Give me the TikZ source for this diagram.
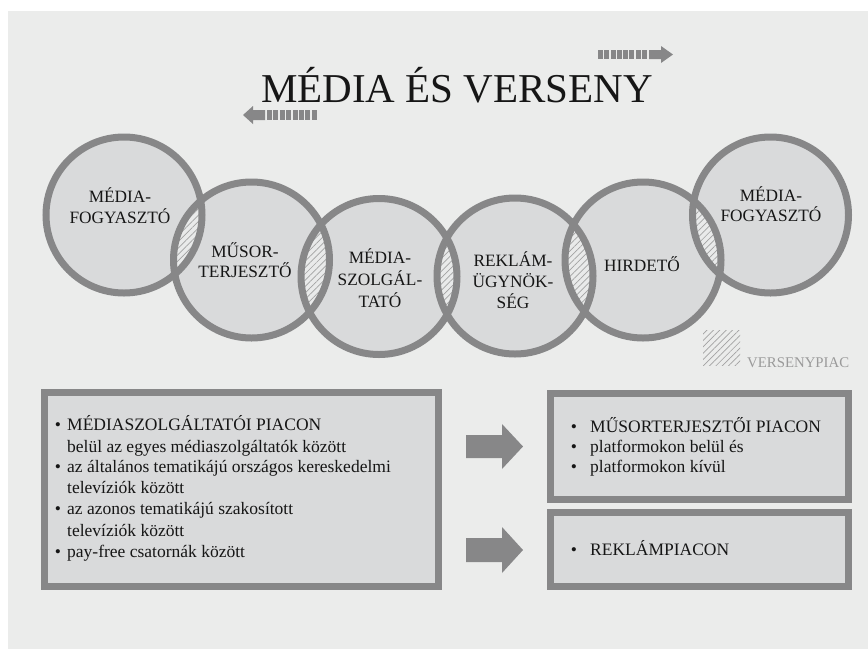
\documentclass[tikz,border=0pt]{standalone}
\usepackage{fontspec}
\setmainfont{Liberation Serif}
\usetikzlibrary{patterns.meta}
\definecolor{bgc}{HTML}{EBECEB}
\definecolor{cfill}{HTML}{D9DADB}
\definecolor{ringc}{HTML}{878788}
\definecolor{lensc}{HTML}{E9EAEA}
\definecolor{hatchc}{HTML}{A2A2A2}
\definecolor{txtc}{HTML}{161616}
\definecolor{legc}{HTML}{9A9A9A}
\tikzset{
  circ/.style={circle, fill=cfill, minimum size=156pt, inner sep=0pt, outer sep=0pt},
  ringline/.style={draw=ringc, line width=7pt},
  hatchfill/.style={pattern={Lines[angle=45,distance=4.5pt,line width=0.7pt]}, pattern color=hatchc},
  ctext/.style={anchor=base, inner sep=0pt, text=txtc, font=\fontsize{17.3}{21}\selectfont},
  btext/.style={anchor=base west, inner sep=0pt, text=txtc, font=\fontsize{17.5}{21}\selectfont},
  bul/.style={anchor=base, inner sep=0pt, text=txtc, font=\fontsize{17.5}{21}\selectfont},
  boxst/.style={rectangle, draw=ringc, fill=cfill, line width=7pt, inner sep=0pt, outer sep=0pt},
  arrc/.style={fill=ringc},
}
\begin{document}
\begin{tikzpicture}[x=1pt,y=-1pt]
\useasboundingbox (0,0) rectangle (868,649);
\fill[white] (0,0) rectangle (868,649);
\fill[bgc] (8,11) rectangle (868,649);

% title
\node[anchor=base, inner sep=0pt, text=txtc, font=\fontsize{41}{48}\selectfont] (title) at (457,102) {MÉDIA ÉS VERSENY};

% small dashed arrows
\foreach \i in {0,...,7} \fill[arrc] ({598+\i*6.25},50) rectangle ++(5,9);
\fill[arrc] (649,50) -- (661,50) -- (661,46) -- (673,54.5) -- (661,63) -- (661,59) -- (649,59) -- cycle;
\fill[arrc] (243,115) -- (253,106) -- (253,110) -- (265,110) -- (265,120) -- (253,120) -- (253,124) -- cycle;
\foreach \i in {0,...,7} \fill[arrc] ({267+\i*6.4},110) rectangle ++(5,10);

% circles
\node[circ] (c1) at (124,215) {};
\node[circ] (c2) at (251.5,260) {};
\node[circ] (c3) at (379,276.5) {};
\node[circ] (c4) at (515,276) {};
\node[circ] (c5) at (643,260) {};
\node[circ] (c6) at (770.5,215) {};

\foreach \a/\b in {c1/c2,c2/c3,c3/c4,c4/c5,c5/c6}{
  \begin{scope}
    \clip (\a.center) circle[radius=78pt];
    \fill[lensc] (\b.center) circle[radius=78pt];
    \fill[hatchfill] (\b.center) circle[radius=78pt];
  \end{scope}
}
\foreach \c in {c1,c2,c3,c4,c5,c6} \draw[ringline] (\c.center) circle[radius=78pt];

% circle labels
\node[ctext] (c1a) at (120,202) {MÉDIA-};
\node[ctext] (c1b) at (120,223) {FOGYASZTÓ};
\node[ctext] (c2a) at (245,257) {MŰSOR-};
\node[ctext] (c2b) at (245,277) {TERJESZTŐ};
\node[ctext] (c3a) at (380,263) {MÉDIA-};
\node[ctext] (c3b) at (380,285) {SZOLGÁL-};
\node[ctext] (c3c) at (380,307) {TATÓ};
\node[ctext] (c4a) at (513,266) {REKLÁM-};
\node[ctext] (c4b) at (513,287) {ÜGYNÖK-};
\node[ctext] (c4c) at (513,308) {SÉG};
\node[ctext] (c5a) at (642,271) {HIRDETŐ};
\node[ctext] (c6a) at (771,201) {MÉDIA-};
\node[ctext] (c6b) at (771,221) {FOGYASZTÓ};

% legend
\fill[hatchfill] (703,330) rectangle (740,365);
\node[anchor=base west, inner sep=0pt, text=legc, font=\fontsize{14.8}{18}\selectfont] (leg) at (747,367) {VERSENYPIAC};

% boxes
\node[boxst, minimum width=394pt, minimum height=194pt] (b1) at (241.5,489.5) {};
\node[boxst, minimum width=298pt, minimum height=106pt] (b2) at (699.5,446.5) {};
\node[boxst, minimum width=298pt, minimum height=74pt] (b3) at (699.5,549.5) {};

% big arrows
\fill[arrc] (466,435) -- (502,435) -- (502,424) -- (523,446.5) -- (502,469) -- (502,458) -- (466,458) -- cycle;
\fill[arrc] (466,538) -- (502,538) -- (502,527) -- (523,550) -- (502,573) -- (502,562) -- (466,562) -- cycle;

% left box text
\node[bul] (l1b) at (58,430) {•};
\node[btext] (l1) at (67,430) {MÉDIASZOLGÁLTATÓI PIACON};
\node[btext] (l2) at (67,452) {belül az egyes médiaszolgáltatók között};
\node[bul] (l3b) at (58,472) {•};
\node[btext] (l3) at (67,472) {az általános tematikájú országos kereskedelmi};
\node[btext] (l4) at (67,493) {televíziók között};
\node[bul] (l5b) at (58,514) {•};
\node[btext] (l5) at (67,514) {az azonos tematikájú szakosított};
\node[btext] (l6) at (67,536) {televíziók között};
\node[bul] (l7b) at (58,557) {•};
\node[btext] (l7) at (67,557) {pay-free csatornák között};

% right box text
\node[bul] (r1b) at (574,432) {•};
\node[btext] (r1) at (590,432) {MŰSORTERJESZTŐI PIACON};
\node[bul] (r2b) at (574,452) {•};
\node[btext] (r2) at (590,452) {platformokon belül és};
\node[bul] (r3b) at (574,472) {•};
\node[btext] (r3) at (590,472) {platformokon kívül};
\node[bul] (r4b) at (574,555) {•};
\node[btext] (r4) at (590,555) {REKLÁMPIACON};
\end{tikzpicture}
\end{document}
